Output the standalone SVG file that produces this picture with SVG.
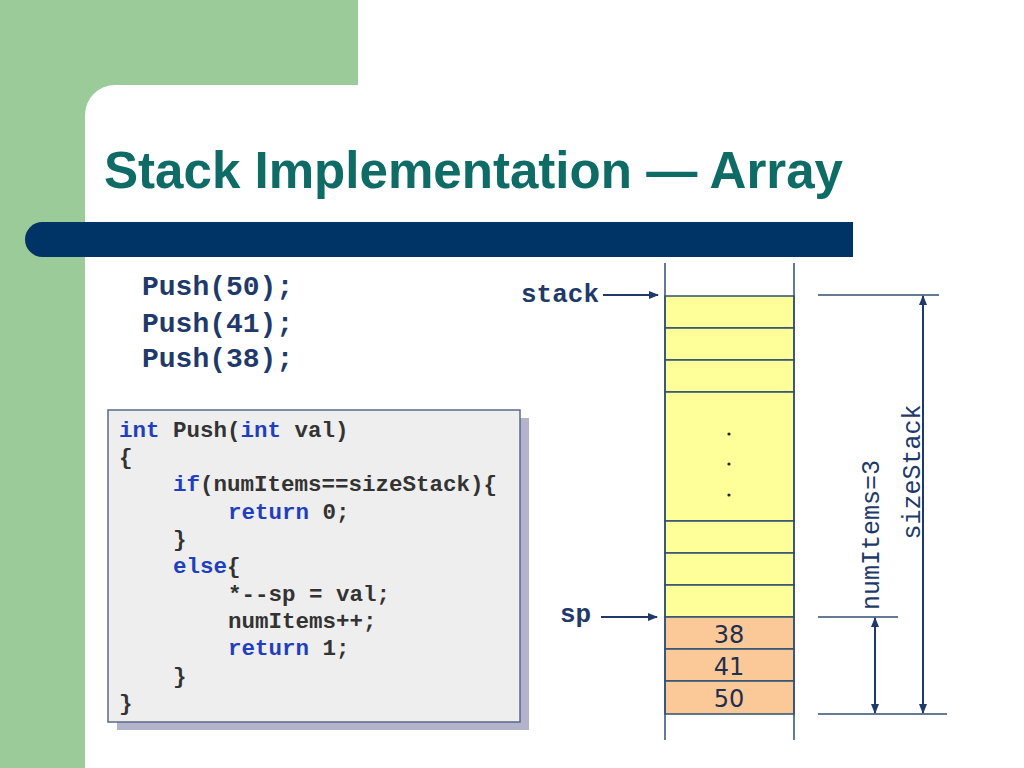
<svg xmlns="http://www.w3.org/2000/svg" width="1024" height="768" viewBox="0 0 1024 768">
<style>
.code{font-family:"Liberation Mono",monospace;font-weight:bold;font-size:22.5px;fill:#333333}
.kw{fill:#1F3FBF}
.lbl{font-family:"Liberation Mono",monospace;font-weight:bold;font-size:28px;fill:#1F3A6A}
.lbl2{font-family:"Liberation Mono",monospace;font-weight:bold;font-size:26px;fill:#1F3A6A}
.dim{font-family:"Liberation Mono",monospace;font-size:25px;fill:#1F3A6A}
.num{font-family:"DejaVu Sans",sans-serif;font-size:24px;fill:#1F2F4F;text-anchor:middle}
.ln{stroke:#2F4F6F;stroke-width:1.5;fill:none}
.arr{stroke:#1F3A6A;stroke-width:2;fill:none}
.yel{fill:#FFFF99;stroke:#2F4F6F;stroke-width:1.5}
.org{fill:#FBC898;stroke:#2F4F6F;stroke-width:1.5}
</style>
<defs>
<marker id="ah" markerWidth="10" markerHeight="8" refX="9" refY="4" orient="auto-start-reverse" markerUnits="userSpaceOnUse">
<path d="M0,0 L10,4 L0,8 Z" fill="#1F3A6A"/>
</marker>
</defs>
<rect width="1024" height="768" fill="#ffffff"/>
<g id="background">
<rect x="0" y="0" width="358" height="85" fill="#9BCB98"/>
<rect x="0" y="0" width="85" height="768" fill="#9BCB98"/>
<path d="M85,85 L115,85 A30,30 0 0 0 85,115 Z" fill="#9BCB98"/>
<path d="M42.5,222 L853,222 L853,257 L42.5,257 A17.5,17.5 0 0 1 42.5,222 Z" fill="#003366"/>
</g>
<g id="title">
<text x="104" y="188" font-family="Liberation Sans, Arial, sans-serif" font-weight="bold" font-size="52" fill="#0E6B66" textLength="739" lengthAdjust="spacingAndGlyphs">Stack Implementation — Array</text>
</g>
<g id="push-calls">
<text class="lbl" x="142" y="295">Push(50);</text>
<text class="lbl" x="142" y="332">Push(41);</text>
<text class="lbl" x="142" y="367">Push(38);</text>
</g>
<g id="code-box">
<rect x="117" y="418" width="412" height="312" fill="#B3B3CC"/>
<rect x="108" y="410" width="412" height="312" fill="#EEEEEE" stroke="#5A6A8A" stroke-width="1.5"/>
<text class="code" x="119" y="437"><tspan class="kw">int</tspan> Push(<tspan class="kw">int</tspan> val)</text>
<text class="code" x="119" y="464">{</text>
<text class="code" x="173" y="491"><tspan class="kw">if</tspan>(numItems==sizeStack){</text>
<text class="code" x="228" y="519"><tspan class="kw">return</tspan> 0;</text>
<text class="code" x="173" y="546">}</text>
<text class="code" x="173" y="573"><tspan class="kw">else</tspan>{</text>
<text class="code" x="228" y="601">*--sp = val;</text>
<text class="code" x="228" y="628">numItems++;</text>
<text class="code" x="228" y="655"><tspan class="kw">return</tspan> 1;</text>
<text class="code" x="173" y="683">}</text>
<text class="code" x="119" y="710">}</text>
</g>
<g id="stack-array">
<rect class="yel" x="665" y="296" width="129" height="32"/>
<rect class="yel" x="665" y="328" width="129" height="32"/>
<rect class="yel" x="665" y="360" width="129" height="32"/>
<rect class="yel" x="665" y="392" width="129" height="129"/>
<rect class="yel" x="665" y="521" width="129" height="32"/>
<rect class="yel" x="665" y="553" width="129" height="32"/>
<rect class="yel" x="665" y="585" width="129" height="32"/>
<rect class="org" x="665" y="617" width="129" height="32"/>
<rect class="org" x="665" y="649" width="129" height="32"/>
<rect class="org" x="665" y="681" width="129" height="33"/>
<line class="ln" x1="665" y1="263" x2="665" y2="740"/>
<line class="ln" x1="794" y1="263" x2="794" y2="740"/>
<circle cx="729" cy="434" r="1.6" fill="#222"/>
<circle cx="729" cy="464" r="1.6" fill="#222"/>
<circle cx="729" cy="495" r="1.6" fill="#222"/>
<text class="num" x="729" y="643">38</text>
<text class="num" x="729" y="675">41</text>
<text class="num" x="729" y="707">50</text>
</g>
<g id="stack-label">
<text class="lbl2" x="521" y="302">stack</text>
</g>
<g id="sp-label">
<text class="lbl2" x="560" y="622">sp</text>
</g>
<g id="size-labels">
<text class="dim" transform="translate(920,472) rotate(-90)" text-anchor="middle">sizeStack</text>
<text class="dim" transform="translate(879,535) rotate(-90)" text-anchor="middle">numItems=3</text>
</g>
<g id="connectors">
<line class="arr" x1="603" y1="295" x2="658" y2="295" marker-end="url(#ah)"/>
<line class="arr" x1="601" y1="617" x2="657" y2="617" marker-end="url(#ah)"/>
<line class="ln" x1="818" y1="295" x2="939" y2="295"/>
<line class="ln" x1="818" y1="617" x2="898" y2="617"/>
<line class="ln" x1="818" y1="714" x2="947" y2="714"/>
<line class="arr" x1="923" y1="296" x2="923" y2="713" marker-start="url(#ah)" marker-end="url(#ah)"/>
<line class="arr" x1="875" y1="618" x2="875" y2="713" marker-start="url(#ah)" marker-end="url(#ah)"/>
</g>
</svg>
